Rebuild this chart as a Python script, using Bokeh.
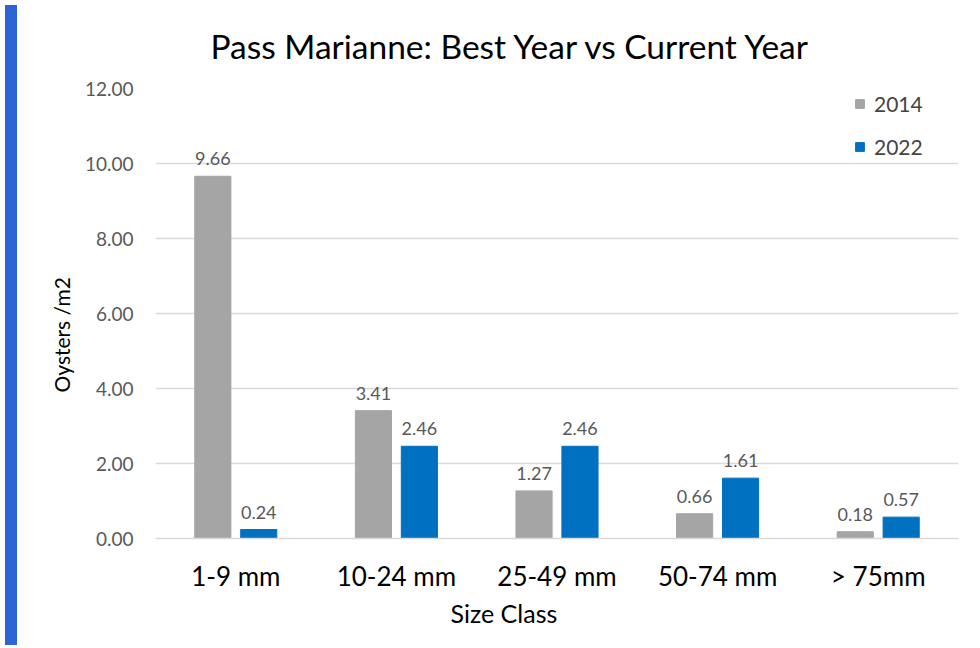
from bokeh.plotting import figure
from bokeh.models import (ColumnDataSource, FactorRange, LabelSet, Legend, LegendItem,
                          FixedTicker, NumeralTickFormatter, Div, Title)
from bokeh.core.properties import value
from bokeh.transform import dodge
from bokeh.layouts import row
from bokeh.embed import file_html
from bokeh.resources import INLINE

categories = ["1-9 mm", "10-24 mm", "25-49 mm", "50-74 mm", "> 75mm"]
values_2014 = [9.66, 3.41, 1.27, 0.66, 0.18]
values_2022 = [0.24, 2.46, 2.46, 1.61, 0.57]
y_ticks = [0, 2, 4, 6, 8, 10, 12]

FONT = "Lato"
GRAY = "#A5A5A5"
BLUE = "#0070C0"

src = ColumnDataSource(data=dict(
    cat=categories,
    v14=values_2014,
    v22=values_2022,
    t14=["%.2f" % v for v in values_2014],
    t22=["%.2f" % v for v in values_2022],
))

p = figure(x_range=FactorRange(*categories), y_range=(0, 12),
           width=955, height=640, output_backend="svg", toolbar_location=None,
           min_border_left=133, min_border_right=19, min_border_top=88, min_border_bottom=102)

r14 = p.vbar(x=dodge("cat", -0.143, range=p.x_range), top="v14", width=0.225,
             source=src, color=GRAY)
r22 = p.vbar(x=dodge("cat", 0.143, range=p.x_range), top="v22", width=0.225,
             source=src, color=BLUE)

for col, txt, off in (("v14", "t14", -0.143), ("v22", "t22", 0.143)):
    p.add_layout(LabelSet(x=dodge("cat", off, range=p.x_range), y=col, text=txt, source=src,
                          text_align="center", text_baseline="bottom", y_offset=11,
                          text_font=value(FONT), text_font_size="18px", text_color="#595959"))

p.title.text = "Pass Marianne: Best Year vs Current Year"
p.title.align = "left"
p.title.offset = 55
p.title.text_font = FONT
p.title.text_font_size = "33.5px"
p.title.text_font_style = "normal"
p.title.text_color = "#000000"
p.title.standoff = 46

p.outline_line_color = None
p.background_fill_color = "white"
p.border_fill_color = "white"
p.xgrid.grid_line_color = None
p.ygrid.grid_line_color = "#D9D9D9"
p.ygrid.grid_line_width = 1.3

p.yaxis.ticker = FixedTicker(ticks=y_ticks)
p.yaxis.formatter = NumeralTickFormatter(format="0.00")
p.yaxis.axis_line_color = None
p.yaxis.major_tick_line_color = None
p.yaxis.minor_tick_line_color = None
p.yaxis.major_label_text_font = FONT
p.yaxis.major_label_text_font_size = "19px"
p.yaxis.major_label_text_color = "#595959"
p.yaxis.major_label_standoff = 16

p.xaxis.axis_line_color = "#D9D9D9"
p.xaxis.axis_line_width = 1.3
p.xaxis.major_tick_line_color = None
p.xaxis.minor_tick_line_color = None
p.xaxis.major_label_text_font = FONT
p.xaxis.major_label_text_font_size = "26px"
p.xaxis.major_label_text_color = "#000000"
p.xaxis.major_label_standoff = 15

ylab = Title(text="Oysters /m2", align="left", offset=146, standoff=16,
             text_font=FONT, text_font_size="21px", text_font_style="normal",
             text_color="#000000")
p.add_layout(ylab, "left")

xlab = Title(text="Size Class", align="left", offset=295, standoff=2,
             text_font=FONT, text_font_size="25px", text_font_style="normal",
             text_color="#000000")
p.add_layout(xlab, "below")

legend = Legend(items=[LegendItem(label="2014", renderers=[r14]),
                       LegendItem(label="2022", renderers=[r22])],
                location=(699, 379), padding=0, margin=0, spacing=18,
                glyph_width=11, glyph_height=11, label_height=20, label_standoff=9,
                label_text_font=FONT, label_text_font_size="21px",
                border_line_color=None, background_fill_alpha=0)
p.add_layout(legend)

left = Div(width=12, height=640, styles={"background-color": "#2E63D8"})
right = Div(width=5, height=640, styles={"background-color": "#2447B8"})
layout = row(left, p, right, spacing=0)

open("out.html", "w").write(file_html(layout, INLINE))
